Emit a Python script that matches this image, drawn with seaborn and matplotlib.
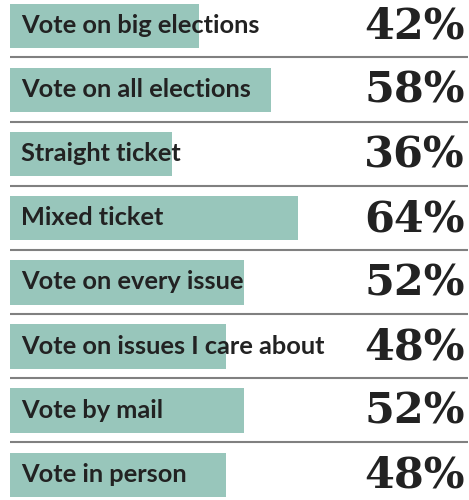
import matplotlib
matplotlib.use("Agg")
import matplotlib.pyplot as plt
import matplotlib.transforms as mtransforms
import seaborn as sns
import pandas as pd

categories = ["Vote on big elections", "Vote on all elections", "Straight ticket",
              "Mixed ticket", "Vote on every issue", "Vote on issues I care about",
              "Vote by mail", "Vote in person"]
values = [42, 58, 36, 64, 52, 48, 52, 48]
value_labels = ["42%", "58%", "36%", "64%", "52%", "48%", "52%", "48%"]

df = pd.DataFrame({"category": categories, "value": values})

sns.set_theme(style="white")
W, H = 469, 500
fig = plt.figure(figsize=(W / 100, H / 100), dpi=100)
ax = fig.add_axes([0, 0, 1, 1])

bar_color = "#98c6bb"
sns.barplot(data=df, y="category", x="value", orient="h", color=bar_color,
            width=0.69, saturation=1, ax=ax, edgecolor="none")

pitch = 64.1
first_center = 26.0
x0_px = 10.0
k = 4.5  # px per percent
ax.set_ylim((H - first_center) / pitch, -first_center / pitch)
ax.set_xlim(-x0_px / k, (W - x0_px) / k)
ax.axis("off")

blend = mtransforms.blended_transform_factory(ax.transAxes, ax.transData)

for i, (cat, lab) in enumerate(zip(categories, value_labels)):
    ax.text((21 - x0_px) / k, i + 0.11, cat, ha="left", va="baseline",
            fontsize=18.3, fontweight="bold", family=["Lato", "DejaVu Sans"],
            color="#222222")
    ax.text(465 / W, i + 0.2, lab, transform=blend,
            ha="right", va="baseline", fontsize=31, fontweight="bold",
            family=["DejaVu Serif"], color="#222222")
    if i < len(categories) - 1:
        ax.plot([10 / W, 468 / W], [i + 0.49, i + 0.49], color="#808080", lw=1.5,
                transform=blend, solid_capstyle="butt")

fig.savefig("out.png", dpi=100)
